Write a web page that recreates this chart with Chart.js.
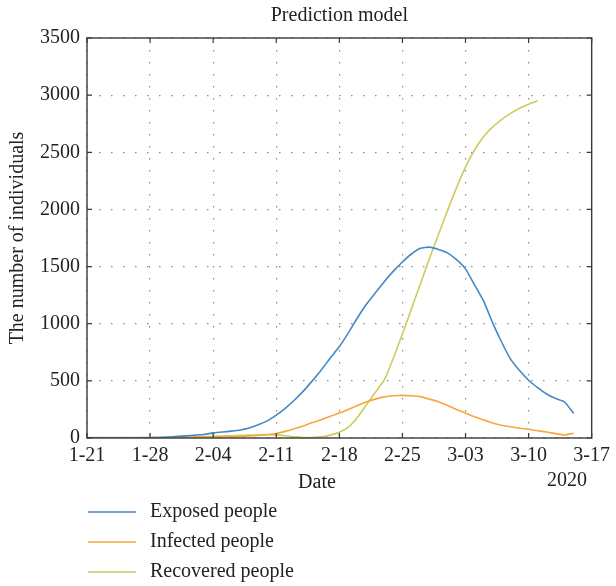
<!DOCTYPE html>
<html>
<head>
<meta charset="utf-8">
<script src="https://cdn.jsdelivr.net/npm/chart.js@4"></script>
<style>
  html, body { margin: 0; padding: 0; background: #fff; }
  #wrap { width: 616px; height: 586px; }
</style>
</head>
<body>
<div id="wrap"><canvas id="chart" width="616" height="586"></canvas></div>
<script>
// one label per day, 2020-01-21 .. 2020-03-17
const dateLabels = [
  '1-21','1-22','1-23','1-24','1-25','1-26','1-27','1-28','1-29','1-30','1-31',
  '2-01','2-02','2-03','2-04','2-05','2-06','2-07','2-08','2-09','2-10','2-11','2-12','2-13','2-14',
  '2-15','2-16','2-17','2-18','2-19','2-20','2-21','2-22','2-23','2-24','2-25','2-26','2-27','2-28','2-29',
  '3-01','3-02','3-03','3-04','3-05','3-06','3-07','3-08','3-09','3-10','3-11','3-12','3-13','3-14','3-15','3-16','3-17'
];
const yTicks = [0, 500, 1000, 1500, 2000, 2500, 3000, 3500];

const exposedPeople = [0, 0, 0, 0, 0, 0, 0, 2, 5, 9, 14, 19, 25, 31, 45, 52, 60, 70, 88, 115,
  150, 200, 260, 330, 410, 500, 595, 700, 800, 920, 1050, 1170, 1270, 1370, 1460, 1540, 1610, 1660, 1670, 1650,
  1620, 1560, 1480, 1340, 1200, 1010, 840, 690, 590, 505, 440, 385, 345, 315, 215];
const infectedPeople = [3, 3, 3, 3, 3, 4, 4, 4, 5, 5, 5, 6, 7, 8, 9, 10, 11, 13, 17, 22,
  30, 40, 58, 80, 105, 135, 160, 190, 218, 250, 285, 315, 340, 360, 370, 373, 370, 362, 340, 318,
  285, 250, 218, 185, 158, 132, 112, 98, 86, 76, 64, 52, 38, 26, 42];
const recoveredPeople = [2, 2, 2, 2, 2, 2, 3, 3, 4, 4, 5, 7, 10, 12, 15, 18, 20, 23, 25, 27,
  28, 27, 20, 10, 5, 5, 10, 25, 50, 95, 180, 290, 400, 510, 700, 910, 1130, 1350, 1570, 1780,
  1990, 2190, 2370, 2520, 2635, 2720, 2785, 2840, 2885, 2920, 2950];

const FONT = "'Liberation Serif', 'DejaVu Serif', serif";
const TEXT = '#222';
const GRID = '#8a8a8a';
const FRAME = '#3a3a3a';

function lineSet(label, data, color) {
  return {
    label,
    data,
    borderColor: color,
    backgroundColor: color,
    borderWidth: 1.6,
    pointRadius: 0,
    tension: 0.15,
    fill: false,
  };
}

// inward tick marks, closed frame, title, extra labels and the legend
const decorations = {
  id: 'decorations',
  afterDraw(chart) {
    const { ctx, chartArea: a, scales } = chart;
    ctx.save();
    ctx.strokeStyle = FRAME;
    ctx.lineWidth = 1.4;
    ctx.strokeRect(a.left, a.top, a.right - a.left, a.bottom - a.top);

    ctx.lineWidth = 1.2;
    ctx.beginPath();
    dateLabels.forEach((lbl, i) => {
      if (i % 7 !== 0) return;
      const x = scales.x.getPixelForValue(i);
      ctx.moveTo(x, a.bottom); ctx.lineTo(x, a.bottom - 5);
      ctx.moveTo(x, a.top); ctx.lineTo(x, a.top + 5);
    });
    yTicks.forEach(v => {
      const y = scales.y.getPixelForValue(v);
      ctx.moveTo(a.left, y); ctx.lineTo(a.left + 5, y);
      ctx.moveTo(a.right, y); ctx.lineTo(a.right - 5, y);
    });
    ctx.stroke();

    ctx.fillStyle = TEXT;
    ctx.font = `20px ${FONT}`;
    ctx.textBaseline = 'middle';
    ctx.textAlign = 'center';
    ctx.fillText('Prediction model', (a.left + a.right) / 2, 16);
    ctx.fillText('Date', 317, 483);
    ctx.fillText('2020', 567, 481);

    ctx.textAlign = 'left';
    chart.data.datasets.forEach((ds, i) => {
      const y = 512 + i * 30;
      ctx.strokeStyle = ds.borderColor;
      ctx.lineWidth = 1.6;
      ctx.beginPath();
      ctx.moveTo(88, y); ctx.lineTo(136, y);
      ctx.stroke();
      ctx.fillText(ds.label, 150, y);
    });
    ctx.restore();
  },
};

new Chart(document.getElementById('chart'), {
  type: 'line',
  data: {
    labels: dateLabels,
    datasets: [
      lineSet('Exposed people', exposedPeople, '#4189C7'),
      lineSet('Infected people', infectedPeople, '#F7A73C'),
      lineSet('Recovered people', recoveredPeople, '#CDCB5B'),
    ],
  },
  options: {
    responsive: false,
    animation: false,
    layout: { padding: { top: 38, right: 19, bottom: 0, left: 0 } },
    plugins: { legend: { display: false }, title: { display: false }, tooltip: { enabled: false } },
    scales: {
      x: {
        type: 'category',
        offset: false,
        afterFit: s => { s.height = 148; },
        grid: {
          drawTicks: false,
          color: c => (c.index % 7 === 0 ? GRID : 'rgba(0,0,0,0)'),
          lineWidth: 1.2,
        },
        border: { display: false, dash: [1.5, 10.5] },
        ticks: {
          autoSkip: false,
          maxRotation: 0,
          padding: 6,
          color: TEXT,
          font: { family: FONT, size: 20 },
          callback: (v, i) => (i % 7 === 0 ? dateLabels[i] : ''),
        },
      },
      y: {
        min: 0,
        max: 3500,
        afterFit: s => { s.width = 87; },
        grid: { drawTicks: false, color: GRID, lineWidth: 1.2 },
        border: { display: false, dash: [1.5, 10.5] },
        ticks: {
          stepSize: 500,
          padding: 7,
          color: TEXT,
          font: { family: FONT, size: 20 },
          callback: v => String(v),
        },
        title: {
          display: true,
          text: 'The number of individuals',
          color: TEXT,
          font: { family: FONT, size: 20 },
          padding: { top: 6, bottom: 0 },
        },
      },
    },
  },
  plugins: [decorations],
});
</script>
</body>
</html>
